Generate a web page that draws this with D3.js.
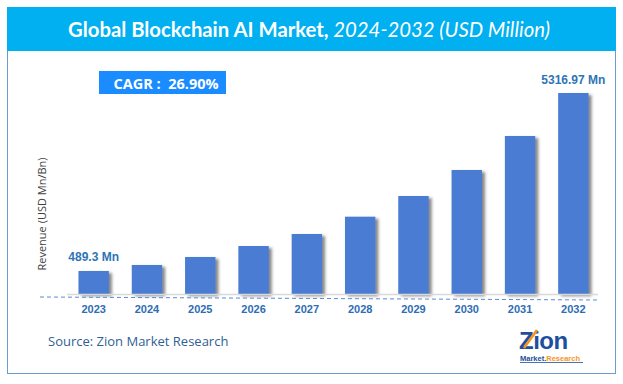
<!DOCTYPE html>
<html><head><meta charset="utf-8">
<script src="https://cdn.jsdelivr.net/npm/d3@7"></script>
<style>body{margin:0;background:#fff}svg{display:block}</style>
</head><body>
<script>
const years = ["2023","2024","2025","2026","2027","2028","2029","2030","2031","2032"];
const revenue = [489.3, 652, 869, 1167, 1493, 1962, 2523, 3229, 4151, 5316.97];
const valueLabels = {"2023":"489.3 Mn","2032":"5316.97 Mn"};
const titleMain = "Global Blockchain AI Market,";
const titleSub = " 2024-2032 (USD Million)";
const cagrText = "CAGR :  26.90%";
const yAxisTitle = "Revenue (USD Mn/Bn)";
const sourceText = "Source: Zion Market Research";

const W = 623, H = 384;
const svg = d3.select("body").append("svg").attr("width", W).attr("height", H);
const defs = svg.append("defs");
const f = defs.append("filter").attr("id","sh").attr("x","-30%").attr("y","-10%").attr("width","160%").attr("height","130%");
f.append("feDropShadow").attr("dx",3).attr("dy",2).attr("stdDeviation",1.4).attr("flood-color","#444").attr("flood-opacity",0.65);

// frame
svg.append("rect").attr("x",7.5).attr("y",7.5).attr("width",608).attr("height",366).attr("fill","#fff").attr("stroke","#6a9cd0").attr("stroke-width",1);
svg.append("rect").attr("x",7).attr("y",7).attr("width",609).attr("height",44).attr("fill","#00b0f0");

const title = svg.append("text").attr("x",309).attr("y",37).attr("text-anchor","middle")
  .attr("fill","#fff").style("font-family","Lato, 'Open Sans', sans-serif").style("font-size","20.3px");
title.append("tspan").attr("font-weight","bold").text(titleMain);
title.append("tspan").attr("font-style","italic").text(titleSub);

// CAGR box
svg.append("rect").attr("x",99).attr("y",71).attr("width",127).attr("height",23).attr("fill","#1a8cff");
svg.append("text").attr("x",166).attr("y",88.5).attr("text-anchor","middle").attr("fill","#fff")
  .style("font-family","'Open Sans', sans-serif").style("font-weight","bold").style("font-size","14.5px")
  .attr("xml:space","preserve").text(cagrText);

// scales
const x = d3.scaleBand().domain(years).range([67, 600]).paddingInner(0.43).paddingOuter(0.215);
const y = d3.scaleLinear().domain([-135, 5316.97]).range([294, 93]);

// y axis title
svg.append("text").attr("transform","translate(46,214) rotate(-90)").attr("text-anchor","middle")
  .attr("fill","#404040").style("font-family","'Open Sans', sans-serif").style("font-size","11px").text(yAxisTitle);

// bars
svg.append("g").selectAll("rect").data(years).join("rect")
  .attr("x", d => x(d)).attr("width", x.bandwidth())
  .attr("y", (d,i) => y(revenue[i])).attr("height", (d,i) => y(-135) - y(revenue[i]))
  .attr("fill","#4a7cd2").attr("filter","url(#sh)");

// baseline
svg.append("line").attr("x1",67).attr("x2",598).attr("y1",294.5).attr("y2",294.5).attr("stroke","#d9d9d9").attr("stroke-width",1.5);
svg.append("line").attr("x1",40).attr("x2",600).attr("y1",297).attr("y2",300).attr("stroke","#5b8ad6").attr("stroke-width",1).attr("stroke-dasharray","4,3");

// x axis labels
const xAxis = d3.axisBottom(x).tickSize(0).tickPadding(0);
const gx = svg.append("g").attr("transform","translate(0,305)").call(xAxis);
gx.select(".domain").remove();
gx.selectAll("text").attr("dy","0.71em").attr("fill","#2e6db4")
  .style("font-family","'Liberation Sans', Arial, sans-serif").style("font-weight","bold").style("font-size","11px");

// value labels
svg.append("g").selectAll("text").data(years.filter(d => valueLabels[d])).join("text")
  .attr("x", d => x(d) + x.bandwidth()/2).attr("y", d => y(revenue[years.indexOf(d)]) - 9.5)
  .attr("text-anchor","middle").attr("fill","#2e75b6")
  .style("font-family","'Liberation Sans', Arial, sans-serif").style("font-weight","bold").style("font-size","12px")
  .text(d => valueLabels[d]);

// source
svg.append("text").attr("x",48).attr("y",346).attr("fill","#2f5f93")
  .style("font-family","'Open Sans', sans-serif").style("font-size","13px").text(sourceText);

// logo
const logo = svg.append("g");
logo.append("text").attr("x",519).attr("y",349).attr("fill","#1d4f9e")
  .style("font-family","'Liberation Sans', Arial, sans-serif").style("font-weight","bold").style("font-size","24px").style("letter-spacing","-0.5px").text("Zion");
logo.append("line").attr("x1",524).attr("y1",348).attr("x2",537).attr("y2",330).attr("stroke","#f7941d").attr("stroke-width",2.5);
const lt = logo.append("text").attr("x",520).attr("y",361).style("font-family","'Liberation Sans', Arial, sans-serif").style("font-size","7.5px").style("font-weight","bold");
lt.append("tspan").attr("fill","#1d4f9e").text("Market.");
lt.append("tspan").attr("fill","#f7941d").text("Research");
logo.append("line").attr("x1",520).attr("x2",583).attr("y1",362.5).attr("y2",362.5).attr("stroke","#1d4f9e").attr("stroke-width",0.8);
</script>
</body></html>
